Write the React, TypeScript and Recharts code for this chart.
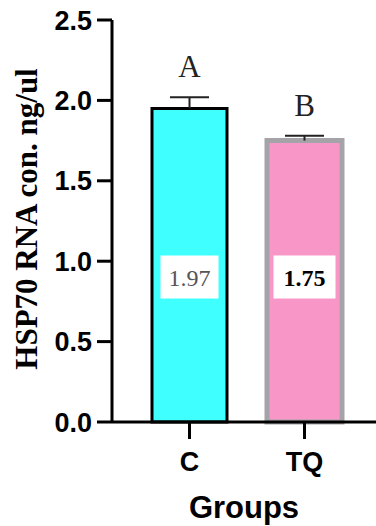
import React from "react";
import { BarChart, Bar, XAxis, YAxis, Cell, LabelList, Label } from "recharts";

const categories = ["C", "TQ"];
const values = [1.95, 1.75];
const errors = [0.07, 0.03];
const valueLabels = ["1.97", "1.75"];
const letters = ["A", "B"];
const yTicks = [0, 0.5, 1, 1.5, 2, 2.5];

const fills = ["#40ffff", "#f896c8"];
const strokes = ["#000000", "#a3a3a8"];
const strokeWidths = [3, 5];
const labelColors = ["#555555", "#000000"];
const labelWeights = ["normal", "bold"];

const data = categories.map((c, i) => ({
  group: c,
  value: values[i],
  err: errors[i],
  label: valueLabels[i],
  letter: letters[i],
}));

const SANS = "'Liberation Sans', Arial, sans-serif";
const SERIF = "'Liberation Serif', 'Times New Roman', serif";

const Whisker = (props: any) => {
  const { x, y, width, height } = props;
  const cx = x + width / 2;
  const capHalf = 19.5;
  return (
    <g>
      <line x1={cx} y1={y + height} x2={cx} y2={y} stroke="#222" strokeWidth={2} />
      <line x1={cx - capHalf} y1={y} x2={cx + capHalf} y2={y} stroke="#222" strokeWidth={2} />
    </g>
  );
};

const LetterLabel = (props: any) => {
  const { x, y, width, index } = props;
  return (
    <text
      x={x + width / 2}
      y={y - 20}
      textAnchor="middle"
      fontFamily={SERIF}
      fontSize={31}
      fill="#222"
    >
      {letters[index]}
    </text>
  );
};

const ValueLabel = (props: any) => {
  const { x, y, width, height, index } = props;
  const cx = x + width / 2;
  const bottom = y + height;
  const cy = bottom - 145;
  const bw = index === 0 ? 58 : 62;
  const bh = 43;
  return (
    <g>
      <rect x={cx - bw / 2} y={cy - bh / 2} width={bw} height={bh} fill="#ffffff" />
      <text
        x={cx}
        y={cy + 9}
        textAnchor="middle"
        fontFamily={SERIF}
        fontSize={24}
        fontWeight={labelWeights[index]}
        fill={labelColors[index]}
      >
        {valueLabels[index]}
      </text>
    </g>
  );
};

export default function App() {
  return (
    <div style={{ position: "absolute", left: 0, top: 0, width: 376, height: 526, background: "#fff" }}>
      <BarChart
        width={376}
        height={526}
        data={data}
        margin={{ top: 20, right: 0, bottom: 0, left: 0 }}
        barSize={75}
      >
        <XAxis
          dataKey="group"
          height={104}
          padding={{ left: 20, right: 14 }}
          axisLine={{ stroke: "#000", strokeWidth: 3 }}
          tickLine={{ stroke: "#000", strokeWidth: 3 }}
          tickSize={17}
          tickMargin={13}
          tick={{ fill: "#000", fontFamily: SANS, fontWeight: "bold", fontSize: 27 }}
        >
          <Label
            content={(p: any) => {
              const vb = p.viewBox;
              return (
                <text
                  x={vb.x + vb.width / 2}
                  y={vb.y + 96}
                  textAnchor="middle"
                  fontFamily={SANS}
                  fontWeight="bold"
                  fontSize={31}
                  fill="#000"
                >
                  Groups
                </text>
              );
            }}
          />
        </XAxis>
        <YAxis
          width={112}
          domain={[0, 2.5]}
          ticks={yTicks}
          interval={0}
          tickFormatter={(v: number) => v.toFixed(1)}
          axisLine={{ stroke: "#000", strokeWidth: 3 }}
          tickLine={{ stroke: "#000", strokeWidth: 3 }}
          tickSize={15}
          tickMargin={5}
          tick={{ fill: "#000", fontFamily: SANS, fontWeight: "bold", fontSize: 27 }}
        >
          <Label
            content={(p: any) => {
              const vb = p.viewBox;
              const cx = vb.x + 37;
              const cy = vb.y + vb.height / 2 - 2;
              return (
                <text
                  x={cx}
                  y={cy}
                  transform={`rotate(-90, ${cx}, ${cy})`}
                  textAnchor="middle"
                  fontFamily={SERIF}
                  fontWeight="bold"
                  fontSize={31}
                  fill="#000"
                >
                  HSP70 RNA con. ng/ul
                </text>
              );
            }}
          />
        </YAxis>
        <Bar dataKey="value" stackId="s" isAnimationActive={false}>
          {data.map((d, i) => (
            <Cell key={d.group} fill={fills[i]} stroke={strokes[i]} strokeWidth={strokeWidths[i]} />
          ))}
          <LabelList dataKey="label" content={ValueLabel} />
        </Bar>
        <Bar dataKey="err" stackId="s" isAnimationActive={false} shape={Whisker}>
          <LabelList dataKey="letter" content={LetterLabel} />
        </Bar>
      </BarChart>
    </div>
  );
}
